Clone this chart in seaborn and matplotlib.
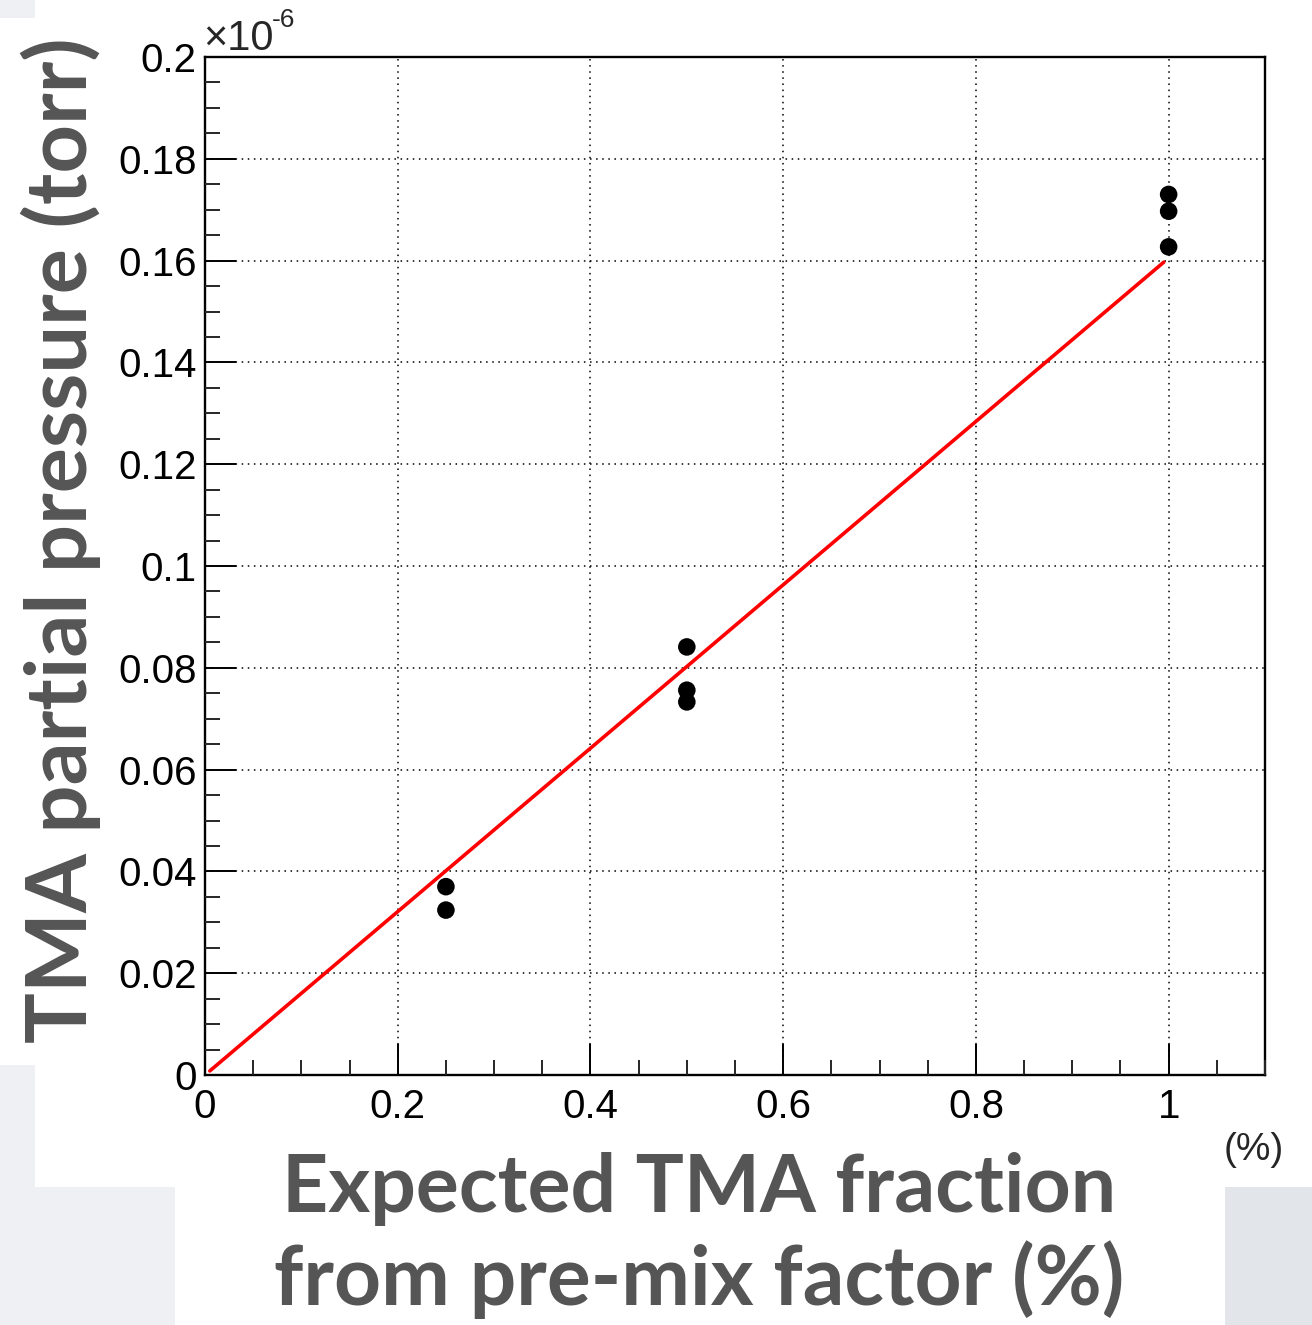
import numpy as np
import pandas as pd
import matplotlib
matplotlib.use("Agg")
import matplotlib.pyplot as plt
from matplotlib.patches import Rectangle
from matplotlib.ticker import MultipleLocator
import seaborn as sns

# ---- data (pressure in units of 1e-6 torr) ----
expected_fraction = [0.25, 0.25, 0.5, 0.5, 0.5, 1.0, 1.0, 1.0]
partial_pressure = [0.0370, 0.0324, 0.0841, 0.0756, 0.0733, 0.1730, 0.1697, 0.1627]
fit_range = [0.005, 0.995]
fit_slope = 0.1605
fit_intercept = 0.0

x_ticks = [0, 0.2, 0.4, 0.6, 0.8, 1]
x_tick_labels = ["0", "0.2", "0.4", "0.6", "0.8", "1"]
y_ticks = [0, 0.02, 0.04, 0.06, 0.08, 0.1, 0.12, 0.14, 0.16, 0.18, 0.2]
y_tick_labels = ["0", "0.02", "0.04", "0.06", "0.08", "0.1", "0.12", "0.14", "0.16", "0.18", "0.2"]

points = pd.DataFrame({"x": expected_fraction, "y": partial_pressure})
fit_x = np.array(fit_range)
fit = pd.DataFrame({"x": fit_x, "y": fit_slope * fit_x + fit_intercept})

sns.set_style("white")
plt.rcParams["font.family"] = ["Liberation Sans", "DejaVu Sans"]

W, H = 1312, 1325
fig = plt.figure(figsize=(W / 100, H / 100), dpi=100)
fig.patch.set_facecolor("white")

# slide background patches
bg = "#eef0f4"
for (x0, y0, w, h, c) in [(0, 0, 35, 18, bg), (0, 1065, 35, 260, bg),
                          (0, 1187, 175, 138, bg), (1225, 1187, 87, 138, "#e2e6ea")]:
    fig.add_artist(Rectangle((x0 / W, 1 - (y0 + h) / H), w / W, h / H,
                             transform=fig.transFigure, color=c, zorder=-10, lw=0))

ax = fig.add_axes([205 / W, 1 - 1075 / H, 1060 / W, 1018 / H])
ax.set_facecolor("white")

sns.lineplot(data=fit, x="x", y="y", ax=ax, color="#ff0000", lw=2.6, zorder=3)
sns.scatterplot(data=points, x="x", y="y", ax=ax, color="black", s=160,
                edgecolor="none", zorder=4)

ax.set_xlim(0, 1.1)
ax.set_ylim(0, 0.2)
ax.set_xticks(x_ticks)
ax.set_xticklabels(x_tick_labels)
ax.set_yticks(y_ticks)
ax.set_yticklabels(y_tick_labels)
ax.xaxis.set_minor_locator(MultipleLocator(0.05))
ax.yaxis.set_minor_locator(MultipleLocator(0.005))
ax.set_xlabel("")
ax.set_ylabel("")

ax.grid(True, which="major", color="black", lw=1.1, linestyle=(0, (1, 3)))
ax.set_axisbelow(False)
for s in ax.spines.values():
    s.set_color("black")
    s.set_linewidth(1.7)
    s.set_visible(True)

ax.tick_params(axis="both", which="major", direction="in", length=22, width=1.4,
               labelsize=29, colors="black", top=False, right=False)
ax.tick_params(axis="both", which="minor", direction="in", length=11, width=1.4,
               top=False, right=False)
ax.tick_params(axis="x", which="major", pad=9, bottom=True)
ax.tick_params(axis="y", which="major", pad=6, left=True)
ax.tick_params(axis="x", which="minor", bottom=True)
ax.tick_params(axis="y", which="minor", left=True)

# exponent label
fig.text(203 / W, 1 - 50 / H, "×10", fontsize=30, ha="left", va="baseline")
fig.text(272 / W, 1 - 27 / H, "-6", fontsize=19, ha="left", va="baseline")
# unit
fig.text(1284 / W, 1 - 1160 / H, "(%)", fontsize=28, ha="right", va="baseline")

lab = dict(family=["Lato", "DejaVu Sans"], fontweight="bold", color="#555555")
fig.text(699 / W, 1 - 1212 / H, "Expected TMA fraction", ha="center", va="baseline",
         fontsize=58, **lab)
fig.text(699 / W, 1 - 1305 / H, "from pre-mix factor (%)", ha="center", va="baseline",
         fontsize=59, **lab)
fig.text(61 / W, 1 - 540 / H, "TMA partial pressure (torr)", rotation=90,
         ha="center", va="center", fontsize=61, **lab)

fig.savefig("out.png", dpi=100)
